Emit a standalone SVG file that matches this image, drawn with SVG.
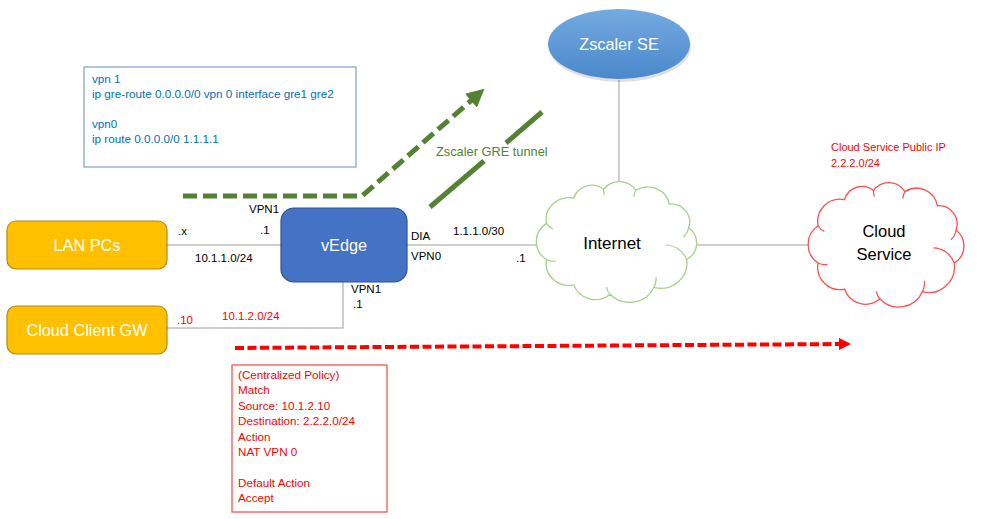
<svg xmlns="http://www.w3.org/2000/svg" xmlns:xlink="http://www.w3.org/1999/xlink" width="999" height="519" viewBox="0 0 999 519">
<style>
.t{font-family:"Liberation Sans",Arial,sans-serif;}
.lbl{font-size:11.5px;fill:#000;}
.red{font-size:11.7px;fill:#ff0000;}
.cfg{font-size:11.7px;fill:#0070c0;}
.big{font-size:16.3px;fill:#fff;text-anchor:middle;}
.gl{stroke:#bfbfbf;stroke-width:1.5;fill:none;}
.green{stroke:#548235;stroke-width:5;fill:none;}
.cloud{vector-effect:non-scaling-stroke;stroke-width:1.3;fill:#fff;}
.hook{vector-effect:non-scaling-stroke;stroke-width:1.2;fill:none;}
</style>
<defs>
<linearGradient id="zg" x1="0" y1="0" x2="0" y2="1">
<stop offset="0" stop-color="#74aae0"/>
<stop offset="1" stop-color="#4a88cc"/>
</linearGradient>
<marker id="ga" markerUnits="userSpaceOnUse" markerWidth="20" markerHeight="20" viewBox="0 0 20 20" refX="4" refY="10" orient="auto">
<path d="M0,1 L18,10 L0,19 Z" fill="#548235"/>
</marker>
<marker id="ra" markerUnits="userSpaceOnUse" markerWidth="14" markerHeight="14" viewBox="0 0 14 14" refX="3" refY="7" orient="auto">
<path d="M0,1 L12,7 L0,13 Z" fill="#ff0000"/>
</marker>
<path id="cloudp" d="M14.8,80.6 A21.7,21.7 0 0 1 14.8,44.4 A21.8,21.8 0 0 1 40.8,19.1 A17.8,17.8 0 0 1 69.2,10.3 A18.4,18.4 0 0 1 99.9,11.3 A20.8,20.8 0 0 1 131.7,25 A18,18 0 0 1 150.1,48.8 A19.1,19.1 0 0 1 148.2,80.6 A25,25 0 0 1 117,108.4 A25.4,25.4 0 0 1 75.3,115.3 A21.5,21.5 0 0 1 40.8,105.9 A21.8,21.8 0 0 1 14.8,80.6 Z"/>
<path id="hooks" d="M14.8,44.4 A14,14 0 0 0 21,50 M69.2,10.3 A12,12 0 0 0 70,16 M99.9,11.3 A14,14 0 0 0 98,18 M150.1,48.8 A16,16 0 0 1 145,58 M148.2,80.6 A22,22 0 0 0 128,66 M117,108.4 A16,16 0 0 0 119,98 M75.3,115.3 A12,12 0 0 1 72,108 M14.8,80.6 A14,14 0 0 0 24,82"/>
</defs>
<rect width="999" height="519" fill="#fff"/>

<g id="connectors">
<line class="gl" x1="167" y1="245" x2="281" y2="245"/>
<path class="gl" d="M167,328 H343 V282"/>
<line class="gl" x1="407" y1="245" x2="545" y2="245"/>
<line class="gl" x1="619" y1="80" x2="619" y2="192"/>
<line class="gl" x1="690" y1="245" x2="815" y2="245"/>
<path class="green" stroke-dasharray="14 6" d="M183,196 L362,196 L474,98" marker-end="url(#ga)"/>
<line class="green" x1="430" y1="207" x2="484" y2="161"/>
<line class="green" x1="506" y1="143" x2="542" y2="112"/>
<path d="M235,348 L842,344" stroke="#ff0000" stroke-width="4" stroke-dasharray="9 3.5" fill="none" marker-end="url(#ra)"/>
</g>

<g id="config">
<rect x="84" y="67" width="272" height="100" fill="#fff" stroke="#7f9fce" stroke-width="1.2"/>
<text class="t cfg" x="92" y="83">vpn 1</text>
<text class="t cfg" x="92" y="98">ip gre-route 0.0.0.0/0 vpn 0 interface gre1 gre2</text>
<text class="t cfg" x="92" y="128">vpn0</text>
<text class="t cfg" x="92" y="143">ip route 0.0.0.0/0 1.1.1.1</text>
</g>

<g id="lan-pcs">
<rect x="7" y="221" width="160" height="48" rx="9" fill="#ffc000" stroke="#b08a1c" stroke-width="1.2"/>
<text class="t big" x="87" y="251">LAN PCs</text>
</g>

<g id="cloud-client-gw">
<rect x="7" y="306" width="160" height="48" rx="9" fill="#ffc000" stroke="#b08a1c" stroke-width="1.2"/>
<text class="t big" x="87" y="336">Cloud Client GW</text>
</g>

<g id="vedge">
<rect x="281" y="208" width="126" height="74" rx="13" fill="#4472c4" stroke="#2f528f" stroke-width="1.2"/>
<text class="t big" x="344" y="251">vEdge</text>
</g>

<g id="zscaler-se">
<ellipse cx="620" cy="47" rx="71" ry="35" fill="#000" opacity="0.12"/>
<ellipse cx="619" cy="44" rx="71" ry="35" fill="url(#zg)"/>
<text class="t big" x="619" y="50">Zscaler SE</text>
</g>

<g id="internet">
<use xlink:href="#cloudp" href="#cloudp" class="cloud" stroke="#a9d18e" transform="translate(531,179) scale(1.05,1)"/>
<use xlink:href="#hooks" href="#hooks" class="hook" stroke="#a9d18e" transform="translate(531,179) scale(1.05,1)"/>
<text class="t" x="612" y="249" font-size="17" fill="#000" text-anchor="middle">Internet</text>
</g>

<g id="cloud-service">
<use xlink:href="#cloudp" href="#cloudp" class="cloud" stroke="#ff5050" transform="translate(803,180) scale(1.02,1.03)"/>
<use xlink:href="#hooks" href="#hooks" class="hook" stroke="#ff5050" transform="translate(803,180) scale(1.02,1.03)"/>
<text class="t" x="884" y="237" font-size="16.5" fill="#000" text-anchor="middle">Cloud</text>
<text class="t" x="884" y="260" font-size="16.5" fill="#000" text-anchor="middle">Service</text>
</g>

<g id="labels">
<text class="t lbl" x="249" y="213">VPN1</text>
<text class="t lbl" x="260" y="234">.1</text>
<text class="t lbl" x="178" y="235">.x</text>
<text class="t lbl" x="195" y="262">10.1.1.0/24</text>
<text class="t lbl" x="411" y="240">DIA</text>
<text class="t lbl" x="411" y="260">VPN0</text>
<text class="t lbl" x="453" y="235">1.1.1.0/30</text>
<text class="t lbl" x="516" y="262">.1</text>
<text class="t lbl" x="351" y="293">VPN1</text>
<text class="t lbl" x="353" y="308">.1</text>
<text class="t" x="177" y="324" font-size="11.5" fill="#ff0000">.10</text>
<text class="t" x="222" y="320" font-size="11.5" fill="#ff0000">10.1.2.0/24</text>
<text class="t" x="436" y="156" font-size="12.8" fill="#548235">Zscaler GRE tunnel</text>
<text class="t" x="831" y="151" font-size="11" fill="#ff0000">Cloud Service Public IP</text>
<text class="t" x="831" y="167" font-size="11" fill="#ff0000">2.2.2.0/24</text>
</g>

<g id="policy">
<rect x="232" y="365" width="155" height="147" fill="#fff" stroke="#ff5050" stroke-width="1.3"/>
<text class="t red" x="238" y="379">(Centralized Policy)</text>
<text class="t red" x="238" y="394">Match</text>
<text class="t red" x="238" y="410">Source: 10.1.2.10</text>
<text class="t red" x="238" y="425">Destination: 2.2.2.0/24</text>
<text class="t red" x="238" y="441">Action</text>
<text class="t red" x="238" y="456">NAT VPN 0</text>
<text class="t red" x="238" y="487">Default Action</text>
<text class="t red" x="238" y="502">Accept</text>
</g>
</svg>
